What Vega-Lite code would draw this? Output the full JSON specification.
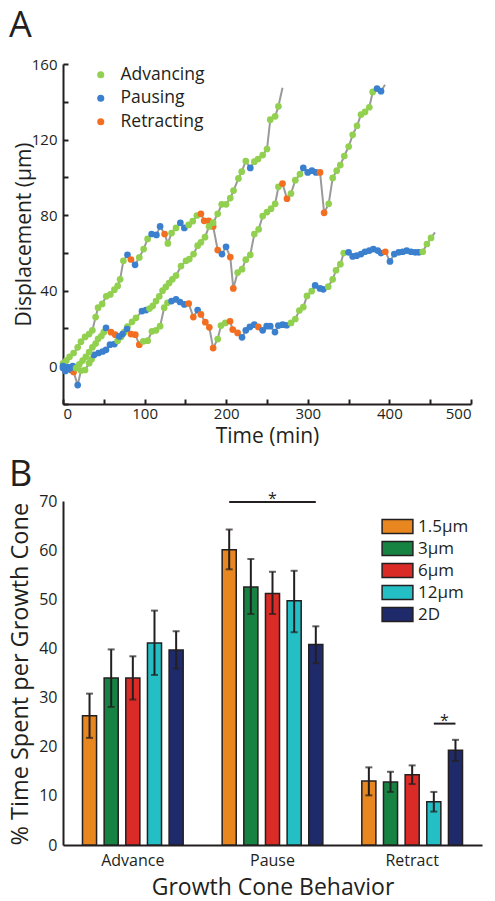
{
  "$schema": "https://vega.github.io/schema/vega-lite/v6.json",
  "background": "white",
  "padding": {"left": 8, "top": 8, "right": 5, "bottom": 5},
  "spacing": 11,
  "resolve": {"scale": {"color": "independent"}, "legend": {"color": "independent"}},
  "config": {
    "font": "Open Sans",
    "view": {"stroke": null},
    "axis": {"grid": false, "domainColor": "#231F20", "domainWidth": 2, "tickColor": "#231F20", "tickWidth": 2, "labelColor": "#231F20", "labelFontSize": 15, "titleColor": "#231F20", "titleFontSize": 21, "titleFontWeight": "normal", "labelFont": "Open Sans", "titleFont": "Open Sans"},
    "legend": {"labelFont": "Open Sans", "labelColor": "#231F20"},
    "title": {"font": "Open Sans", "fontWeight": "normal", "color": "#231F20", "fontSize": 36, "anchor": "start", "frame": "group"}
  },
  "vconcat": [
    {
      "title": {"text": "A", "dx": -54, "offset": 12},
      "width": 408,
      "height": 340,
      "data": {"values": [
        {"track":"a","time":0,"disp":1.5,"state":"Advancing"},
        {"track":"a","time":4,"disp":3,"state":"Advancing"},
        {"track":"a","time":8,"disp":5,"state":"Advancing"},
        {"track":"a","time":13,"disp":7,"state":"Advancing"},
        {"track":"a","time":18,"disp":10,"state":"Advancing"},
        {"track":"a","time":22,"disp":13,"state":"Advancing"},
        {"track":"a","time":27,"disp":15.5,"state":"Advancing"},
        {"track":"a","time":32,"disp":17,"state":"Advancing"},
        {"track":"a","time":36,"disp":19,"state":"Advancing"},
        {"track":"a","time":40,"disp":26,"state":"Advancing"},
        {"track":"a","time":43,"disp":31,"state":"Advancing"},
        {"track":"a","time":48,"disp":33,"state":"Advancing"},
        {"track":"a","time":53,"disp":37,"state":"Advancing"},
        {"track":"a","time":58,"disp":38,"state":"Advancing"},
        {"track":"a","time":63,"disp":40.5,"state":"Advancing"},
        {"track":"a","time":67,"disp":42.5,"state":"Advancing"},
        {"track":"a","time":70,"disp":46,"state":"Advancing"},
        {"track":"a","time":74,"disp":55.8,"state":"Advancing"},
        {"track":"a","time":79,"disp":59,"state":"Pausing"},
        {"track":"a","time":83.3,"disp":56.5,"state":"Retracting"},
        {"track":"a","time":88.3,"disp":53.7,"state":"Pausing"},
        {"track":"a","time":93.5,"disp":57.6,"state":"Advancing"},
        {"track":"a","time":98.8,"disp":62,"state":"Advancing"},
        {"track":"a","time":103.7,"disp":67.4,"state":"Advancing"},
        {"track":"a","time":108.6,"disp":70,"state":"Pausing"},
        {"track":"a","time":114.5,"disp":69.5,"state":"Pausing"},
        {"track":"a","time":119,"disp":74,"state":"Pausing"},
        {"track":"a","time":124.5,"disp":70,"state":"Retracting"},
        {"track":"a","time":128.5,"disp":65,"state":"Advancing"},
        {"track":"a","time":133,"disp":70.5,"state":"Advancing"},
        {"track":"a","time":138.5,"disp":73.2,"state":"Advancing"},
        {"track":"a","time":143.8,"disp":75.9,"state":"Pausing"},
        {"track":"a","time":148.7,"disp":73.2,"state":"Pausing"},
        {"track":"a","time":154,"disp":74.8,"state":"Advancing"},
        {"track":"a","time":159,"disp":76.8,"state":"Advancing"},
        {"track":"a","time":164,"disp":79.8,"state":"Advancing"},
        {"track":"a","time":169,"disp":80.7,"state":"Retracting"},
        {"track":"a","time":173,"disp":77,"state":"Retracting"},
        {"track":"a","time":178.5,"disp":77,"state":"Retracting"},
        {"track":"a","time":184,"disp":74,"state":"Retracting"},
        {"track":"a","time":189.6,"disp":61.5,"state":"Retracting"},
        {"track":"a","time":194.8,"disp":59.4,"state":"Pausing"},
        {"track":"a","time":199.8,"disp":63.2,"state":"Pausing"},
        {"track":"a","time":205,"disp":57.8,"state":"Retracting"},
        {"track":"a","time":208.7,"disp":41.2,"state":"Retracting"},
        {"track":"a","time":214,"disp":49.6,"state":"Advancing"},
        {"track":"a","time":219.4,"disp":51.4,"state":"Advancing"},
        {"track":"a","time":224,"disp":56.4,"state":"Advancing"},
        {"track":"a","time":229.5,"disp":59,"state":"Advancing"},
        {"track":"a","time":234.5,"disp":70,"state":"Advancing"},
        {"track":"a","time":239.8,"disp":72.5,"state":"Advancing"},
        {"track":"a","time":244.7,"disp":79.5,"state":"Advancing"},
        {"track":"a","time":250,"disp":81.6,"state":"Advancing"},
        {"track":"a","time":255,"disp":83.4,"state":"Advancing"},
        {"track":"a","time":260,"disp":86,"state":"Advancing"},
        {"track":"a","time":264,"disp":95,"state":"Advancing"},
        {"track":"a","time":269,"disp":96.7,"state":"Retracting"},
        {"track":"a","time":274.5,"disp":88.7,"state":"Retracting"},
        {"track":"a","time":279.4,"disp":91.4,"state":"Advancing"},
        {"track":"a","time":284.7,"disp":98.5,"state":"Advancing"},
        {"track":"a","time":290.4,"disp":101.7,"state":"Advancing"},
        {"track":"a","time":294.5,"disp":105,"state":"Pausing"},
        {"track":"a","time":299.9,"disp":102.6,"state":"Pausing"},
        {"track":"a","time":305,"disp":103.5,"state":"Pausing"},
        {"track":"a","time":310,"disp":102.6,"state":"Pausing"},
        {"track":"a","time":315,"disp":102.6,"state":"Retracting"},
        {"track":"a","time":320,"disp":81.2,"state":"Retracting"},
        {"track":"a","time":325.6,"disp":86,"state":"Advancing"},
        {"track":"a","time":330.5,"disp":99.7,"state":"Advancing"},
        {"track":"a","time":335.4,"disp":103.5,"state":"Advancing"},
        {"track":"a","time":339.8,"disp":106.5,"state":"Advancing"},
        {"track":"a","time":344.7,"disp":111.3,"state":"Advancing"},
        {"track":"a","time":350.1,"disp":116.3,"state":"Advancing"},
        {"track":"a","time":355,"disp":122.5,"state":"Advancing"},
        {"track":"a","time":360.3,"disp":127.3,"state":"Advancing"},
        {"track":"a","time":365.2,"disp":133.2,"state":"Advancing"},
        {"track":"a","time":370.1,"disp":134.6,"state":"Advancing"},
        {"track":"a","time":375.4,"disp":137.1,"state":"Advancing"},
        {"track":"a","time":379.5,"disp":145.2,"state":"Advancing"},
        {"track":"a","time":384.8,"disp":147,"state":"Pausing"},
        {"track":"a","time":389.7,"disp":145.6,"state":"Pausing"},
        {"track":"a","time":394.6,"disp":149,"state":null},

        {"track":"b","time":0,"disp":-1,"state":"Pausing"},
        {"track":"b","time":3,"disp":-2.5,"state":"Pausing"},
        {"track":"b","time":7,"disp":-1,"state":"Pausing"},
        {"track":"b","time":10,"disp":-2,"state":"Pausing"},
        {"track":"b","time":13,"disp":-3,"state":"Retracting"},
        {"track":"b","time":18,"disp":-10,"state":"Pausing"},
        {"track":"b","time":22,"disp":-2.3,"state":"Advancing"},
        {"track":"b","time":27,"disp":-2,"state":"Advancing"},
        {"track":"b","time":32,"disp":1.6,"state":"Advancing"},
        {"track":"b","time":35,"disp":3.7,"state":"Advancing"},
        {"track":"b","time":38,"disp":6,"state":"Pausing"},
        {"track":"b","time":43.5,"disp":7,"state":"Pausing"},
        {"track":"b","time":48.6,"disp":7.8,"state":"Pausing"},
        {"track":"b","time":52.7,"disp":8.7,"state":"Pausing"},
        {"track":"b","time":57.6,"disp":11.4,"state":"Pausing"},
        {"track":"b","time":63,"disp":11.7,"state":"Pausing"},
        {"track":"b","time":67,"disp":13.5,"state":"Advancing"},
        {"track":"b","time":71,"disp":15.5,"state":"Advancing"},
        {"track":"b","time":75,"disp":18,"state":"Advancing"},
        {"track":"b","time":79,"disp":21,"state":"Advancing"},
        {"track":"b","time":84.6,"disp":23.5,"state":"Advancing"},
        {"track":"b","time":89.5,"disp":25.6,"state":"Advancing"},
        {"track":"b","time":96.8,"disp":29.2,"state":"Pausing"},
        {"track":"b","time":101.7,"disp":29.7,"state":"Pausing"},
        {"track":"b","time":106,"disp":30.5,"state":"Advancing"},
        {"track":"b","time":110,"disp":32,"state":"Advancing"},
        {"track":"b","time":114,"disp":34.5,"state":"Advancing"},
        {"track":"b","time":118,"disp":37,"state":"Advancing"},
        {"track":"b","time":122,"disp":40,"state":"Advancing"},
        {"track":"b","time":126,"disp":42,"state":"Advancing"},
        {"track":"b","time":130,"disp":44,"state":"Advancing"},
        {"track":"b","time":134,"disp":46,"state":"Advancing"},
        {"track":"b","time":138.5,"disp":48,"state":"Advancing"},
        {"track":"b","time":144.6,"disp":53,"state":"Advancing"},
        {"track":"b","time":150.7,"disp":55.8,"state":"Advancing"},
        {"track":"b","time":154.8,"disp":56.7,"state":"Advancing"},
        {"track":"b","time":160,"disp":59.4,"state":"Advancing"},
        {"track":"b","time":165,"disp":63.8,"state":"Advancing"},
        {"track":"b","time":169,"disp":65.6,"state":"Advancing"},
        {"track":"b","time":174,"disp":68.3,"state":"Advancing"},
        {"track":"b","time":179,"disp":74,"state":"Advancing"},
        {"track":"b","time":184,"disp":76,"state":"Advancing"},
        {"track":"b","time":189.6,"disp":80.7,"state":"Advancing"},
        {"track":"b","time":194.5,"disp":85.7,"state":"Advancing"},
        {"track":"b","time":199.8,"disp":85.7,"state":"Advancing"},
        {"track":"b","time":205,"disp":89,"state":"Advancing"},
        {"track":"b","time":209,"disp":93,"state":"Advancing"},
        {"track":"b","time":215,"disp":99.4,"state":"Advancing"},
        {"track":"b","time":219,"disp":103,"state":"Advancing"},
        {"track":"b","time":224,"disp":108.6,"state":"Advancing"},
        {"track":"b","time":229.5,"disp":105,"state":"Pausing"},
        {"track":"b","time":234.5,"disp":108.3,"state":"Advancing"},
        {"track":"b","time":239,"disp":109.7,"state":"Advancing"},
        {"track":"b","time":244.7,"disp":111.8,"state":"Advancing"},
        {"track":"b","time":250,"disp":115,"state":"Advancing"},
        {"track":"b","time":254,"disp":130.5,"state":"Advancing"},
        {"track":"b","time":260,"disp":132.3,"state":"Advancing"},
        {"track":"b","time":264,"disp":137.6,"state":"Advancing"},
        {"track":"b","time":269,"disp":147.4,"state":null},

        {"track":"c","time":0,"disp":0,"state":"Pausing"},
        {"track":"c","time":3,"disp":-1.5,"state":"Pausing"},
        {"track":"c","time":6,"disp":-0.5,"state":"Pausing"},
        {"track":"c","time":9,"disp":-1,"state":"Pausing"},
        {"track":"c","time":12,"disp":0,"state":"Pausing"},
        {"track":"c","time":16,"disp":-1,"state":"Advancing"},
        {"track":"c","time":20,"disp":1,"state":"Advancing"},
        {"track":"c","time":24,"disp":3,"state":"Advancing"},
        {"track":"c","time":28,"disp":5,"state":"Advancing"},
        {"track":"c","time":32,"disp":7.5,"state":"Advancing"},
        {"track":"c","time":36,"disp":10,"state":"Advancing"},
        {"track":"c","time":40,"disp":12,"state":"Advancing"},
        {"track":"c","time":43,"disp":14.5,"state":"Advancing"},
        {"track":"c","time":47,"disp":16,"state":"Advancing"},
        {"track":"c","time":50,"disp":18,"state":"Advancing"},
        {"track":"c","time":52.7,"disp":20.3,"state":"Pausing"},
        {"track":"c","time":58.8,"disp":18,"state":"Retracting"},
        {"track":"c","time":64,"disp":16.7,"state":"Retracting"},
        {"track":"c","time":69,"disp":15.8,"state":"Pausing"},
        {"track":"c","time":73,"disp":17,"state":"Pausing"},
        {"track":"c","time":78.4,"disp":19.7,"state":"Pausing"},
        {"track":"c","time":83.3,"disp":17,"state":"Retracting"},
        {"track":"c","time":88.6,"disp":16.7,"state":"Retracting"},
        {"track":"c","time":93.5,"disp":11.4,"state":"Retracting"},
        {"track":"c","time":98.4,"disp":13.2,"state":"Advancing"},
        {"track":"c","time":103.8,"disp":13.5,"state":"Advancing"},
        {"track":"c","time":109,"disp":18.5,"state":"Advancing"},
        {"track":"c","time":114,"disp":19,"state":"Advancing"},
        {"track":"c","time":119,"disp":21.2,"state":"Advancing"},
        {"track":"c","time":124,"disp":31,"state":"Advancing"},
        {"track":"c","time":128,"disp":33.6,"state":"Advancing"},
        {"track":"c","time":133,"disp":34.5,"state":"Pausing"},
        {"track":"c","time":138.5,"disp":35.4,"state":"Pausing"},
        {"track":"c","time":143.4,"disp":34,"state":"Pausing"},
        {"track":"c","time":148.7,"disp":32.7,"state":"Pausing"},
        {"track":"c","time":154,"disp":33.2,"state":"Retracting"},
        {"track":"c","time":159.7,"disp":26,"state":"Retracting"},
        {"track":"c","time":165,"disp":29.7,"state":"Pausing"},
        {"track":"c","time":169,"disp":27.4,"state":"Retracting"},
        {"track":"c","time":174.4,"disp":23.3,"state":"Retracting"},
        {"track":"c","time":179.3,"disp":20.6,"state":"Retracting"},
        {"track":"c","time":184,"disp":9.6,"state":"Retracting"},
        {"track":"c","time":189.6,"disp":14.4,"state":"Advancing"},
        {"track":"c","time":193.6,"disp":21.5,"state":"Advancing"},
        {"track":"c","time":198.9,"disp":22.9,"state":"Advancing"},
        {"track":"c","time":204.7,"disp":23.8,"state":"Retracting"},
        {"track":"c","time":208,"disp":19.4,"state":"Retracting"},
        {"track":"c","time":214,"disp":17.6,"state":"Retracting"},
        {"track":"c","time":219.4,"disp":15.3,"state":"Pausing"},
        {"track":"c","time":224,"disp":19,"state":"Pausing"},
        {"track":"c","time":229,"disp":20.8,"state":"Pausing"},
        {"track":"c","time":234.4,"disp":22,"state":"Pausing"},
        {"track":"c","time":239.4,"disp":20.8,"state":"Retracting"},
        {"track":"c","time":244.7,"disp":19,"state":"Pausing"},
        {"track":"c","time":249.6,"disp":21.2,"state":"Pausing"},
        {"track":"c","time":254,"disp":21.2,"state":"Pausing"},
        {"track":"c","time":259.8,"disp":18.1,"state":"Pausing"},
        {"track":"c","time":263.9,"disp":21.5,"state":"Pausing"},
        {"track":"c","time":269.2,"disp":22,"state":"Pausing"},
        {"track":"c","time":274.1,"disp":21.7,"state":"Pausing"},
        {"track":"c","time":279.4,"disp":22.9,"state":"Advancing"},
        {"track":"c","time":284.7,"disp":25,"state":"Advancing"},
        {"track":"c","time":289.6,"disp":29.5,"state":"Advancing"},
        {"track":"c","time":294.5,"disp":31.3,"state":"Advancing"},
        {"track":"c","time":299,"disp":37.2,"state":"Advancing"},
        {"track":"c","time":304.8,"disp":39.8,"state":"Advancing"},
        {"track":"c","time":309,"disp":42.8,"state":"Pausing"},
        {"track":"c","time":315,"disp":41.2,"state":"Pausing"},
        {"track":"c","time":319,"disp":40.7,"state":"Pausing"},
        {"track":"c","time":325,"disp":42.1,"state":"Advancing"},
        {"track":"c","time":330.5,"disp":46,"state":"Advancing"},
        {"track":"c","time":334.6,"disp":50.8,"state":"Advancing"},
        {"track":"c","time":339.9,"disp":54,"state":"Advancing"},
        {"track":"c","time":344,"disp":59.9,"state":"Advancing"},
        {"track":"c","time":350,"disp":60.3,"state":"Pausing"},
        {"track":"c","time":355,"disp":58.1,"state":"Pausing"},
        {"track":"c","time":359.9,"disp":58.5,"state":"Pausing"},
        {"track":"c","time":365.2,"disp":59.4,"state":"Pausing"},
        {"track":"c","time":370.1,"disp":60.6,"state":"Pausing"},
        {"track":"c","time":375.4,"disp":61.2,"state":"Pausing"},
        {"track":"c","time":380.3,"disp":62,"state":"Pausing"},
        {"track":"c","time":385.7,"disp":61.2,"state":"Pausing"},
        {"track":"c","time":389.7,"disp":59.9,"state":"Pausing"},
        {"track":"c","time":395,"disp":60.6,"state":"Retracting"},
        {"track":"c","time":400.7,"disp":55.5,"state":"Pausing"},
        {"track":"c","time":406,"disp":59.4,"state":"Pausing"},
        {"track":"c","time":411.4,"disp":60.3,"state":"Pausing"},
        {"track":"c","time":416.3,"disp":60.6,"state":"Pausing"},
        {"track":"c","time":421.2,"disp":61.2,"state":"Pausing"},
        {"track":"c","time":426.5,"disp":60.6,"state":"Pausing"},
        {"track":"c","time":431.7,"disp":60.3,"state":"Pausing"},
        {"track":"c","time":435.9,"disp":60.3,"state":"Pausing"},
        {"track":"c","time":440.8,"disp":60.6,"state":"Advancing"},
        {"track":"c","time":446,"disp":64.7,"state":"Advancing"},
        {"track":"c","time":451,"disp":67.9,"state":"Advancing"},
        {"track":"c","time":455.9,"disp":70.9,"state":null}
      ]},
      "encoding": {
        "x": {"field": "time", "type": "quantitative", "scale": {"domain": [0, 500], "nice": false},
              "axis": {"title": "Time (min)", "values": [0,50,100,150,200,250,300,350,400,450,500], "labelExpr": "datum.value % 100 === 0 ? datum.label : ''", "tickSize": -5, "labelPadding": 7, "titlePadding": 4}},
        "y": {"field": "disp", "type": "quantitative", "scale": {"domain": [-20, 160], "nice": false},
              "axis": {"title": "Displacement (µm)", "values": [-20,0,20,40,60,80,100,120,140,160], "labelExpr": "datum.value % 40 === 0 ? datum.label : ''", "tickSize": -5, "labelPadding": 11, "titlePadding": -3}}
      },
      "layer": [
        {"mark": {"type": "line", "color": "#9A9A9A", "strokeWidth": 2},
         "encoding": {"detail": {"field": "track"}, "order": {"field": "time"}}},
        {"transform": [{"filter": "datum.state != null"}],
         "mark": {"type": "circle", "size": 45, "opacity": 1},
         "encoding": {"color": {"field": "state", "type": "nominal",
            "scale": {"domain": ["Advancing", "Pausing", "Retracting"], "range": ["#92D050", "#3B80CE", "#F36E21"]},
            "legend": {"title": null, "orient": "none", "legendX": 29, "legendY": 2, "symbolSize": 50, "symbolType": "circle", "labelFontSize": 17.5, "rowPadding": 4.5, "labelOffset": 11}}}}
      ]
    },
    {
      "title": {"text": "B", "dx": -54, "offset": -3},
      "width": 419,
      "height": 344,
      "data": {"values": [
        {"behavior":"Advance","size":"1.5µm","value":26.3,"lo":21.8,"hi":30.8},
        {"behavior":"Advance","size":"3µm","value":34.0,"lo":28.1,"hi":39.8},
        {"behavior":"Advance","size":"6µm","value":34.0,"lo":29.6,"hi":38.4},
        {"behavior":"Advance","size":"12µm","value":41.1,"lo":34.6,"hi":47.7},
        {"behavior":"Advance","size":"2D","value":39.7,"lo":35.9,"hi":43.5},
        {"behavior":"Pause","size":"1.5µm","value":60.1,"lo":56.1,"hi":64.2},
        {"behavior":"Pause","size":"3µm","value":52.5,"lo":47.0,"hi":58.2},
        {"behavior":"Pause","size":"6µm","value":51.2,"lo":47.0,"hi":55.6},
        {"behavior":"Pause","size":"12µm","value":49.7,"lo":43.3,"hi":55.8},
        {"behavior":"Pause","size":"2D","value":40.8,"lo":37.0,"hi":44.5},
        {"behavior":"Retract","size":"1.5µm","value":13.0,"lo":10.1,"hi":15.8},
        {"behavior":"Retract","size":"3µm","value":12.8,"lo":10.8,"hi":14.9},
        {"behavior":"Retract","size":"6µm","value":14.3,"lo":12.4,"hi":16.2},
        {"behavior":"Retract","size":"12µm","value":8.8,"lo":6.8,"hi":10.8},
        {"behavior":"Retract","size":"2D","value":19.3,"lo":17.1,"hi":21.4}
      ]},
      "encoding": {
        "x": {"field": "behavior", "type": "nominal", "scale": {"domain": ["Advance", "Pause", "Retract"], "paddingInner": 0, "paddingOuter": 0},
              "axis": {"title": "Growth Cone Behavior", "titleFontSize": 23, "labelFontSize": 16, "labelAngle": 0, "ticks": false, "labelPadding": 7, "titlePadding": 8}},
        "xOffset": {"field": "size", "type": "nominal", "scale": {"domain": ["1.5µm", "3µm", "6µm", "12µm", "2D"], "paddingInner": 0.35, "paddingOuter": 0.9}}
      },
      "layer": [
        {"mark": {"type": "bar", "stroke": "#231F20", "strokeWidth": 1.5},
         "encoding": {
           "y": {"field": "value", "type": "quantitative", "scale": {"domain": [0, 70], "nice": false},
                 "axis": {"title": "% Time Spent per Growth Cone", "titleFontSize": 23.5, "titleAnchor": "start", "values": [0,10,20,30,40,50,60,70], "ticks": false, "labelFontSize": 16, "labelPadding": 6, "titlePadding": 6}},
           "color": {"field": "size", "type": "nominal",
             "scale": {"domain": ["1.5µm", "3µm", "6µm", "12µm", "2D"], "range": ["#E8861F", "#168343", "#DB2B27", "#23BFC4", "#1F2A6B"]},
             "legend": {"title": null, "orient": "none", "legendX": 326, "legendY": 17, "symbolType": "M-2.2,-1H2.2V1H-2.2Z", "symbolSize": 196, "symbolStrokeColor": "#231F20", "symbolStrokeWidth": 1.5, "symbolOpacity": 1, "labelFontSize": 17, "labelOffset": 12, "rowPadding": 1}}}},
        {"mark": {"type": "rule", "color": "#231F20", "strokeWidth": 2},
         "encoding": {"y": {"field": "lo", "type": "quantitative"}, "y2": {"field": "hi"}}},
        {"mark": {"type": "tick", "color": "#231F20", "thickness": 2, "size": 7, "orient": "horizontal"},
         "encoding": {"y": {"field": "lo", "type": "quantitative"}}},
        {"mark": {"type": "tick", "color": "#231F20", "thickness": 2, "size": 7, "orient": "horizontal"},
         "encoding": {"y": {"field": "hi", "type": "quantitative"}}},
        {"data": {"values": [
           {"behavior":"Pause","size":"1.5µm","level":69.8,"pair":"pause"},
           {"behavior":"Pause","size":"2D","level":69.8,"pair":"pause"},
           {"behavior":"Retract","size":"12µm","level":24.7,"pair":"retract"},
           {"behavior":"Retract","size":"2D","level":24.7,"pair":"retract"}]},
         "mark": {"type": "line", "color": "#231F20", "strokeWidth": 2},
         "encoding": {"y": {"field": "level", "type": "quantitative"}, "detail": {"field": "pair"}}},
        {"data": {"values": [{"behavior":"Pause","size":"6µm","level":69.3,"label":"*"}]},
         "mark": {"type": "text", "color": "#231F20", "fontSize": 16, "baseline": "alphabetic"},
         "encoding": {"y": {"field": "level", "type": "quantitative"}, "text": {"field": "label"}}},
        {"data": {"values": [{"behavior":"Retract","size":"2D","level":24.2,"label":"*"}]},
         "mark": {"type": "text", "color": "#231F20", "fontSize": 16, "baseline": "alphabetic", "dx": -11},
         "encoding": {"y": {"field": "level", "type": "quantitative"}, "text": {"field": "label"}}}
      ]
    }
  ]
}
